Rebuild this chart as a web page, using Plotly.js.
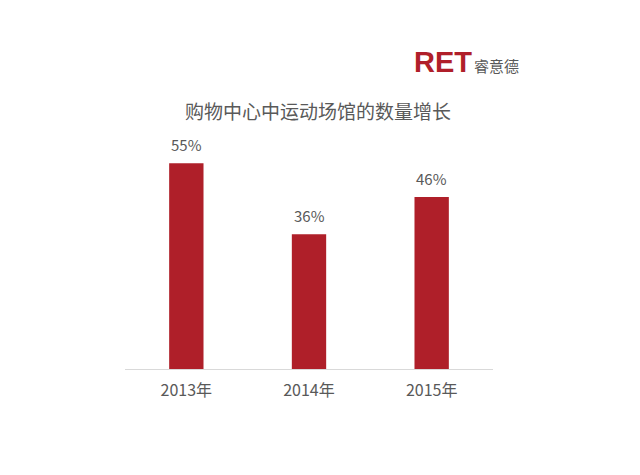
<!DOCTYPE html>
<html><head><meta charset="utf-8">
<script src="https://cdn.plot.ly/plotly-3.0.1.min.js"></script>
<style>html,body{margin:0;padding:0;background:#fff;}#chart{width:640px;height:475px;}</style>
</head><body><div id="chart"></div>
<script>
const categories = ["2013年", "2014年", "2015年"];
const values = [55, 36, 46];
const valueLabels = ["55%", "36%", "46%"];
const chartTitle = "购物中心中运动场馆的数量增长";
const logoMain = "RET";
const logoSub = "睿意德";

const font = "'Noto Sans CJK SC', 'Noto Sans', sans-serif";
const trace = {
  type: 'bar', x: categories, y: values,
  marker: {color: '#AF1F29'},
  width: 0.28, hoverinfo: 'none'
};
const annotations = categories.map((c, i) => ({
  x: c, y: values[i], text: valueLabels[i], showarrow: false,
  xref: 'x', yref: 'y', yanchor: 'bottom', yshift: 6,
  font: {family: font, size: 15, color: '#595959'}
}));
annotations.push({
  xref: 'paper', yref: 'paper', x: 0.5, y: 1, xanchor: 'center', yanchor: 'bottom',
  xshift: 9, yshift: -26, showarrow: false, text: chartTitle,
  font: {family: font, size: 19, color: '#595959'}
});
annotations.push({
  xref: 'paper', yref: 'paper', x: 1, y: 1, xanchor: 'right', yanchor: 'bottom',
  xshift: -19, yshift: 20, showarrow: false,
  text: '<b>' + logoMain + '</b>',
  font: {family: "'Liberation Sans', Arial, sans-serif", size: 29, color: '#B01F2A'}
});
annotations.push({
  xref: 'paper', yref: 'paper', x: 1, y: 1, xanchor: 'right', yanchor: 'bottom',
  xshift: 28, yshift: 22, showarrow: false, text: logoSub,
  font: {family: font, size: 15, color: '#595959'}
});
const layout = {
  width: 640, height: 475,
  margin: {l: 125, r: 147, t: 100, b: 106},
  paper_bgcolor: '#fff', plot_bgcolor: '#fff',
  showlegend: false,
  xaxis: {
    showline: true, linecolor: '#d9d9d9', linewidth: 1,
    ticks: '', ticklabelstandoff: 7,
    tickfont: {family: font, size: 16, color: '#595959'},
    showgrid: false, zeroline: false
  },
  yaxis: {
    range: [0, 71.9], visible: false, showgrid: false, zeroline: false
  },
  annotations: annotations
};
Plotly.newPlot('chart', [trace], layout, {staticPlot: true, displayModeBar: false});
</script></body></html>
